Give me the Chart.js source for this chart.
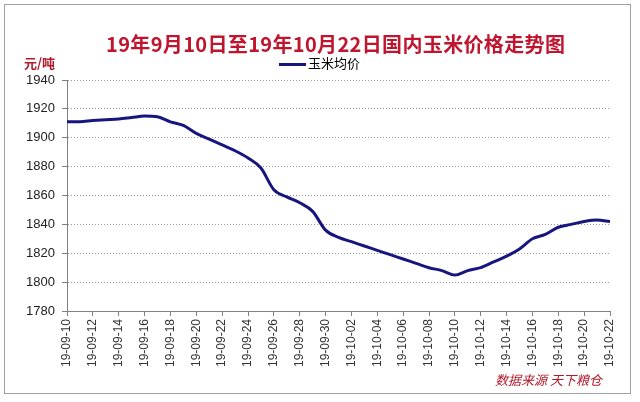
<!DOCTYPE html>
<html>
<head>
<meta charset="utf-8">
<script src="https://cdn.jsdelivr.net/npm/chart.js@4"></script>
<style>
  body { margin: 0; background: #fff; }
  #wrap { position: relative; width: 640px; height: 402px; overflow: hidden; }
  #frame { position: absolute; left: 4px; top: 4px; width: 625px; height: 388px; border: 1px solid #a0a0a0; }
  canvas { position: absolute; left: 0; top: 0; }
  .txt { position: absolute; white-space: nowrap; }
  #title { left: 106px; top: 29px; font: bold 20px "Noto Sans CJK SC", sans-serif; letter-spacing: 0.35px; color: #c0152f; }
  #unit { left: 24px; top: 53px; font: bold 13px "Noto Sans CJK SC", sans-serif; color: #b01a2a; }
  #legend { left: 279px; top: 53px; font: 13px "Noto Sans CJK SC", sans-serif; color: #000; }
  #legend span { display: inline-block; width: 27px; height: 3px; background: #16167e; vertical-align: middle; margin-right: 2px; }
  #source { left: 495px; top: 370px; font: italic 13px "Noto Sans CJK SC", sans-serif; color: #b01a2a; }
</style>
</head>
<body>
<div id="wrap">
  <div id="frame"></div>
  <canvas id="myChart" width="640" height="402"></canvas>
  <div class="txt" id="title">19年9月10日至19年10月22日国内玉米价格走势图</div>
  <div class="txt" id="unit">元/吨</div>
  <div class="txt" id="legend"><span></span>玉米均价</div>
  <div class="txt" id="source">数据来源 天下粮仓</div>
</div>
<script>
// daily dates 19-09-10 .. 19-10-22
const dates = ['19-09-10', '19-09-11', '19-09-12', '19-09-13', '19-09-14', '19-09-15', '19-09-16', '19-09-17', '19-09-18', '19-09-19',
  '19-09-20', '19-09-21', '19-09-22', '19-09-23', '19-09-24', '19-09-25', '19-09-26', '19-09-27', '19-09-28', '19-09-29',
  '19-09-30', '19-10-01', '19-10-02', '19-10-03', '19-10-04', '19-10-05', '19-10-06', '19-10-07', '19-10-08', '19-10-09',
  '19-10-10', '19-10-11', '19-10-12', '19-10-13', '19-10-14', '19-10-15', '19-10-16', '19-10-17', '19-10-18', '19-10-19',
  '19-10-20', '19-10-21', '19-10-22'];
const avgPrice = [1911, 1911, 1912, 1912.5, 1913, 1914, 1915, 1914.5, 1911, 1908.5,
  1903, 1899, 1895, 1891, 1886, 1879, 1864, 1859, 1855, 1849,
  1836, 1831, 1828, 1825, 1822, 1819, 1816, 1813, 1810, 1808,
  1805, 1808, 1810, 1814, 1818, 1823, 1830, 1833, 1838, 1840,
  1842, 1843, 1842];
const yMin = 1780, yMax = 1940, yStep = 20;

const ctx = document.getElementById('myChart');
new Chart(ctx, {
  type: 'line',
  data: {
    datasets: [{
      label: '玉米均价',
      data: avgPrice.map((v, i) => ({ x: i, y: v })),
      borderColor: '#16167e',
      borderWidth: 3,
      pointRadius: 0,
      cubicInterpolationMode: 'monotone',
      fill: false
    }]
  },
  options: {
    responsive: false,
    animation: false,
    devicePixelRatio: 1,
    layout: { padding: { top: 80, left: 0, right: 30, bottom: 0 } },
    plugins: { legend: { display: false }, title: { display: false }, tooltip: { enabled: false } },
    scales: {
      x: {
        type: 'linear',
        min: 0,
        max: dates.length - 1,
        afterFit: (s) => { s.height = 91; },
        grid: { drawOnChartArea: false, drawTicks: true, tickLength: 5, color: '#808080' },
        border: { color: '#808080', width: 1 },
        ticks: {
          stepSize: 2,
          autoSkip: false,
          minRotation: 90,
          maxRotation: 90,
          padding: 3,
          color: '#333',
          font: { family: 'Liberation Sans', size: 12 },
          callback: (v) => dates[v]
        }
      },
      y: {
        min: yMin,
        max: yMax,
        afterFit: (s) => { s.width = 67; },
        grid: { color: '#999', tickLength: 5, tickColor: '#808080', tickBorderDash: [] },
        border: { color: '#808080', width: 1, dash: [1, 2] },
        ticks: {
          stepSize: yStep,
          padding: 7,
          color: '#222',
          font: { family: 'Liberation Sans', size: 13 },
          callback: (v) => String(v)
        }
      }
    }
  }
});
</script>
</body>
</html>
